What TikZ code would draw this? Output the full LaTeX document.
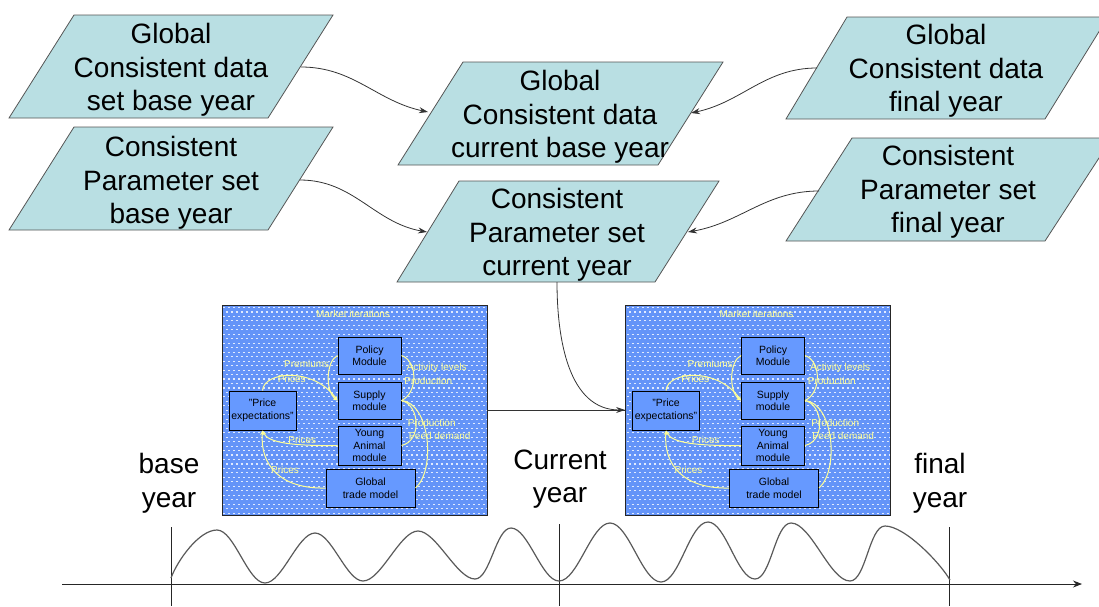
\documentclass[tikz,border=0pt]{standalone}
\usepackage{fontspec}
\setmainfont{Liberation Sans}
\usetikzlibrary{arrows.meta}

\definecolor{paraFill}{RGB}{185,223,227}
\definecolor{paraLine}{RGB}{85,85,85}
\definecolor{boxBlue}{RGB}{100,148,248}
\definecolor{modBlue}{RGB}{102,153,255}
\definecolor{yel}{RGB}{255,255,150}

\tikzset{
  para/.style={fill=paraFill, draw=paraLine, line width=0.8pt},
  bigtxt/.style={font=\fontsize{28}{33.5}\selectfont, align=center, inner sep=0pt},
  conn/.style={draw=black!80, line width=0.8pt, -{Stealth[length=9pt,width=6pt]}},
  plainconn/.style={draw=black!80, line width=0.8pt},
  mbox/.style={draw=black!85, line width=0.9pt, fill=boxBlue, minimum width=265pt, minimum height=210pt, inner sep=0pt},
  module/.style={draw=black, line width=1pt, fill=modBlue, font=\fontsize{10.5}{12.5}\selectfont, align=center, inner sep=0pt},
  ylab/.style={text=yel, font=\fontsize{10}{12}\selectfont, inner sep=0pt},
  yarr/.style={draw=yel, line width=1pt},
  yarrh/.style={draw=yel, line width=1pt, -{Stealth[length=4.5pt,width=4pt]}},
  wave/.style={draw=black!65, line width=1.2pt},
  axisline/.style={draw=black!85, line width=1pt},
  sw/.style={out=0,in=180,looseness=0.62},
}

\newcommand\mktcontent[3]{%
\begin{scope}[shift={(#2,#3)}]
  \foreach \i in {0,...,46}{
    \pgfmathsetmacro\yy{2.5+\i*4.47}
    \pgfmathsetmacro\ph{mod(\i,2)*2.5}
    \draw[white!80!boxBlue, line width=1.1pt, dash pattern=on 2pt off 3pt, dash phase=\ph pt]
      (1,\yy) -- (264,\yy);
  }
  \node[ylab] (#1mi) at (131,9) {Market iterations};
  \node[module, minimum width=63pt, minimum height=37pt] (#1pol) at (147.5,50.5) {Policy\\Module};
  \node[module, minimum width=63pt, minimum height=37pt] (#1sup) at (147.5,95.5) {Supply\\module};
  \node[module, minimum width=63pt, minimum height=39pt] (#1ya) at (147.5,140.5) {Young\\Animal\\module};
  \node[module, minimum width=89pt, minimum height=38pt] (#1gtm) at (148.5,183) {Global\\trade model};
  \node[module, minimum width=67pt, minimum height=39pt] (#1pe) at (40.5,105.5) {"Price\\expectations"};
  \draw[yarrh] (#1pol.west) .. controls (104,56) and (103,86) .. (#1sup.west);
  \draw[yarrh] (#1pe.north) .. controls (42,66) and (92,62) .. (#1sup.west);
  \draw[yarr] (#1pol.east) .. controls (196,56) and (196,88) .. (#1sup.east);
  \draw[yarr] (#1ya.east) .. controls (200,136) and (198,100) .. (#1sup.east);
  \draw[yarr] (#1gtm.east) .. controls (214,165) and (208,98) .. (#1sup.east);
  \draw[yarrh] (#1ya.west) .. controls (72,141) and (46,138) .. (#1pe.south);
  \draw[yarrh] (#1gtm.west) .. controls (58,184) and (38,160) .. (#1pe.south);
  \node[ylab] (#1l1) at (84.7,59) {Premiums};
  \node[ylab] (#1l2) at (69.7,74) {Prices};
  \node[ylab] (#1l3) at (214.7,63.3) {Activity levels};
  \node[ylab] (#1l4) at (206.3,76) {Production};
  \node[ylab] (#1l5) at (209.7,117.7) {Production};
  \node[ylab] (#1l6) at (217.7,131) {Feed demand};
  \node[ylab] (#1l7) at (80.3,135) {Prices};
  \node[ylab] (#1l8) at (63,165) {Prices};
\end{scope}}

\begin{document}
\begin{tikzpicture}[x=1pt,y=-1pt]
\useasboundingbox (0,0) rectangle (1099,606);

% parallelograms
\draw[para] (74,15) -- (333,15) -- (268,118) -- (9,118) -- cycle;
\node[bigtxt] (A) at (171,70) {Global\\Consistent data\\set base year};
\draw[para] (74,127) -- (333,127) -- (268,230) -- (9,230) -- cycle;
\node[bigtxt] (B) at (171,183) {Consistent\\Parameter set\\base year};
\draw[para] (463,62) -- (723,62) -- (658,165) -- (398,165) -- cycle;
\node[bigtxt] (C) at (560,117) {Global\\Consistent data\\current base year};
\draw[para] (459,181) -- (719,181) -- (655,282) -- (397,282) -- cycle;
\node[bigtxt] (D) at (557,235) {Consistent\\Parameter set\\current year};
\draw[para] (847,17) -- (1108,17) -- (1045,119) -- (786,119) -- cycle;
\node[bigtxt] (E) at (946,71) {Global\\Consistent data\\final year};
\draw[para] (852,138) -- (1112,138) -- (1045,241) -- (786,241) -- cycle;
\node[bigtxt] (F) at (948,192) {Consistent\\Parameter set\\final year};

% connector end points on the parallelogram edges
\coordinate (aOut) at (301,67);
\coordinate (cInL) at (428,112);
\coordinate (eOut) at (817,68);
\coordinate (cInR) at (691,113);
\coordinate (bOut) at (300,180);
\coordinate (dInL) at (427,232);
\coordinate (fOut) at (819,191);
\coordinate (dInR) at (688,232);
\coordinate (dBot) at (557,282);

\draw[conn] (aOut) to[out=0,in=168] (cInL);
\draw[conn] (eOut) to[out=180,in=12] (cInR);
\draw[conn] (bOut) to[out=0,in=170] (dInL);
\draw[conn] (fOut) to[out=180,in=10] (dInR);

% market iteration boxes
\node[mbox] (m1) at (354.5,410) {};
\node[mbox] (m2) at (758,410) {};
\mktcontent{a}{222}{305}
\mktcontent{b}{625.5}{305}

\draw[plainconn] (m1.east) -- (m2.west);
\draw[conn] (dBot) to[out=-90,in=180] (m2.west);

% year labels
\node[bigtxt] (by) at (169,483) {base\\year};
\node[bigtxt] (cy) at (560,479) {Current\\year};
\node[bigtxt] (fy) at (940,483) {final\\year};

% timeline
\coordinate (axL) at (62,584);
\coordinate (axR) at (1082,584);
\draw[axisline, -{Stealth[length=9pt,width=7pt]}] (axL) -- (axR);
\coordinate (t1a) at (171,527); \coordinate (t1b) at (171,606);
\coordinate (t2a) at (559,524); \coordinate (t2b) at (559,606);
\coordinate (t3a) at (949,527); \coordinate (t3b) at (949,606);
\draw[axisline] (t1a) -- (t1b);
\draw[axisline] (t2a) -- (t2b);
\draw[axisline] (t3a) -- (t3b);

\draw[wave] (171,578) to[out=70,in=180,looseness=0.7] (217,530) to[sw] (265,583)
  to[sw] (315,533) to[sw] (363,581)
  to[sw] (418,531) to[sw] (475,579)
  to[sw] (511,528) to[sw] (559,581)
  to[sw] (610,523) to[sw] (661,582)
  to[sw] (708,522) to[sw] (755,579)
  to[sw] (791,523) to[sw] (850,581)
  to[sw] (885,526) to[out=0,in=120,looseness=0.6] (950,580);
\end{tikzpicture}
\end{document}
